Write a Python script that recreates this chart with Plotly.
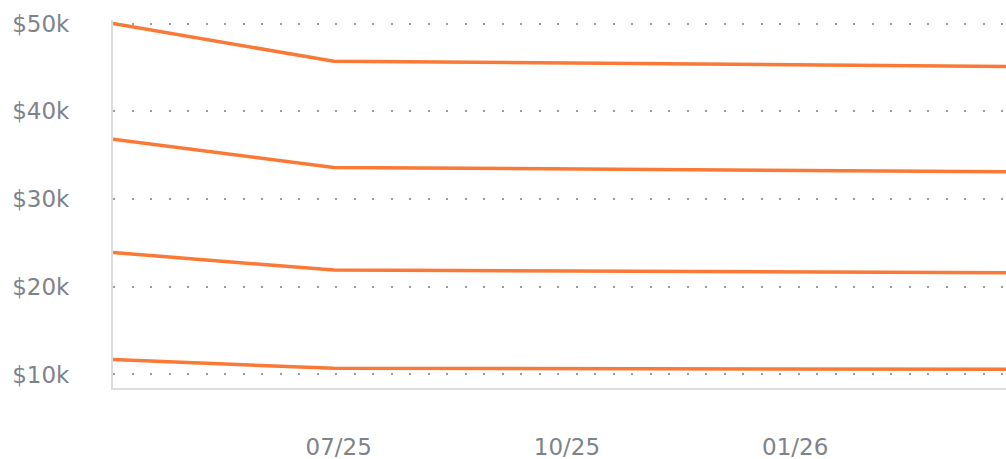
import plotly.graph_objects as go

dates = ["2025-04-01", "2025-06-29", "2026-03-27"]
series_1 = [50000, 45700, 45100]
series_2 = [36800, 33600, 33100]
series_3 = [23900, 21900, 21600]
series_4 = [11700, 10700, 10600]

x_tick_vals = ["2025-07-01", "2025-10-01", "2026-01-01"]
x_tick_text = ["07/25", "10/25", "01/26"]
y_tick_vals = [10000, 20000, 30000, 40000, 50000]
y_tick_text = ["$10k", "$20k", "$30k", "$40k", "$50k"]

line_color = "#fa7936"
text_color = "#7e838a"

fig = go.Figure()
for s in [series_1, series_2, series_3, series_4]:
    fig.add_trace(go.Scatter(x=dates, y=s, mode="lines",
                             line=dict(color=line_color, width=3.5),
                             showlegend=False, hoverinfo="skip"))

fig.update_layout(
    width=1006, height=459,
    margin=dict(l=113, r=0, t=20, b=71, autoexpand=False),
    paper_bgcolor="white", plot_bgcolor="white",
    font=dict(family="DejaVu Sans", size=23, color=text_color),
)
fig.update_xaxes(
    type="date", range=["2025-04-01", "2026-03-27"],
    tickvals=x_tick_vals, ticktext=x_tick_text,
    showgrid=False, zeroline=False, automargin=False,
    showline=True, linecolor="#dcdcdc", linewidth=2,
    ticks="", ticklabelstandoff=37,
)
fig.update_yaxes(
    range=[8460, 50400], automargin=False,
    tickvals=y_tick_vals, ticktext=y_tick_text,
    showgrid=True, gridcolor="#9a9a9a", gridwidth=2, griddash="2px,16.5px",
    zeroline=False,
    showline=True, linecolor="#dcdcdc", linewidth=2,
    ticks="", ticklabelstandoff=37,
)

fig.write_html(
    "out.html",
    config={"displayModeBar": False},
    post_script="document.documentElement.style.margin='0';"
                "document.documentElement.style.overflow='hidden';"
                "document.body.style.margin='0';"
                "document.body.style.overflow='hidden';",
)
